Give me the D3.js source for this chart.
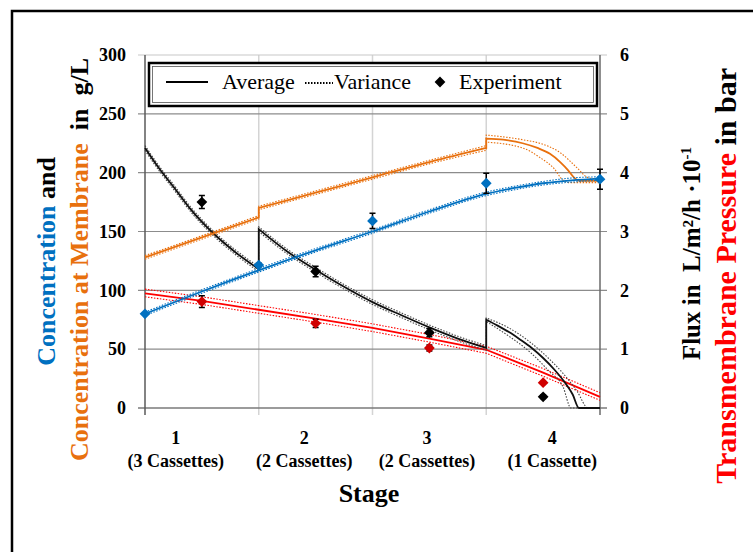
<!DOCTYPE html>
<html>
<head>
<meta charset="utf-8">
<script src="https://cdn.jsdelivr.net/npm/d3@7/dist/d3.min.js"></script>
<style>
  body { margin: 0; background: #fff; }
  text { font-family: "Liberation Serif", "DejaVu Serif", serif; }
</style>
</head>
<body>
<div id="chart"></div>
<script>
// ---- data (stage, value) ----
const STAGES = [0, 1, 2, 3, 4];
const LEFT_TICKS = [0, 50, 100, 150, 200, 250, 300];
const RIGHT_TICKS = [0, 1, 2, 3, 4, 5, 6];
const STAGE_NUMS = ["1", "2", "3", "4"];
const STAGE_NAMES = ["(3 Cassettes)", "(2 Cassettes)", "(2 Cassettes)", "(1 Cassette)"];
const STAGE_LABEL_POS = [0.27, 1.40, 2.48, 3.58];

// concentration (g/L)
const concAvg = [[0,80],[0.5,99],[1,117],[1.5,134],[2,150],[2.5,167],[3,182],[3.25,187],[3.5,191],[3.75,193.5],[4,195]];
const concHi  = [[0,81.5],[0.5,100.5],[1,118.5],[1.5,135.5],[2,151.5],[2.5,168.5],[3,183.5],[3.25,188.5],[3.5,192.5],[3.75,195.5],[4,196.5]];
const concLo  = [[0,78.5],[0.5,97.5],[1,115.5],[1.5,132.5],[2,148.5],[2.5,165.5],[3,180.5],[3.25,185.5],[3.5,189.5],[3.75,192],[4,193.5]];

// concentration at membrane (g/L)
const memAvg = [[0,128],[0.5,145],[1,162],[1,170],[1.5,183],[2,196],[2.5,209],[3,221],[3,229],[3.15,228],[3.32,225],[3.45,221],[3.56,216],[3.65,209],[3.72,202],[3.77,196],[3.82,193],[4,193]];
const memHi  = [[0,129.5],[0.5,146.5],[1,163.5],[1,171.5],[1.5,184.5],[2,197.5],[2.5,210.5],[3,223],[3,232],[3.32,228],[3.47,225],[3.65,217],[3.8,204],[3.89,196],[3.95,195],[4,195]];
const memLo  = [[0,126.5],[0.5,143.5],[1,160.5],[1,168.5],[1.5,181.5],[2,194.5],[2.5,207.5],[3,219],[3,226],[3.32,221],[3.47,213],[3.6,203],[3.67,194],[3.73,191.5],[4,191.5]];

// flux (L/m2/h * 10^-1)
const fluxAvg = [[0,4.42],[0.125,4.07],[0.25,3.76],[0.4,3.38],[0.6,2.97],[0.8,2.64],[1,2.36],[1,3.04],[1.25,2.66],[1.5,2.35],[1.75,2.06],[2,1.80],[2.25,1.58],[2.5,1.37],[2.75,1.18],[3,1.02],[3,1.50],[3.1,1.40],[3.2,1.29],[3.3,1.16],[3.4,1.02],[3.5,0.85],[3.6,0.65],[3.7,0.41],[3.76,0.23],[3.815,0],[4,0]];
const fluxHi  = [[0,4.46],[0.125,4.11],[0.25,3.80],[0.4,3.42],[0.6,3.01],[0.8,2.68],[1,2.40],[1,3.08],[1.25,2.70],[1.5,2.39],[1.75,2.10],[2,1.84],[2.25,1.62],[2.5,1.41],[2.75,1.22],[3,1.06],[3,1.53],[3.2,1.36],[3.385,1.12],[3.55,0.84],[3.675,0.59],[3.8,0.28],[3.895,0],[4,0]];
const fluxLo  = [[0,4.38],[0.125,4.03],[0.25,3.72],[0.4,3.34],[0.6,2.93],[0.8,2.60],[1,2.32],[1,3.00],[1.25,2.62],[1.5,2.31],[1.75,2.02],[2,1.76],[2.25,1.54],[2.5,1.33],[2.75,1.14],[3,0.98],[3,1.47],[3.2,1.22],[3.385,0.95],[3.55,0.63],[3.675,0.36],[3.745,0],[4,0]];

// transmembrane pressure (bar)
const tmpAvg = [[0,1.95],[0.5,1.82],[1,1.67],[1.5,1.52],[2,1.36],[2.5,1.18],[3,0.99],[3.5,0.60],[4,0.19]];
const tmpHi  = [[0,2.02],[0.5,1.89],[1,1.74],[1.5,1.59],[2,1.43],[2.5,1.25],[3,1.05],[3.5,0.67],[4,0.26]];
const tmpLo  = [[0,1.89],[0.5,1.76],[1,1.61],[1.5,1.46],[2,1.30],[2.5,1.12],[3,0.93],[3.5,0.54],[4,0.13]];

// experiments
const concExpX = [0, 1, 2, 3, 4];
const concExp  = [80, 121.5, 159, 191, 194.5];
const concErr  = [0, 1.5, 6.5, 8.5, 8.5];
const fluxExpX = [0.5, 1.5, 2.5, 3.5];
const fluxExp  = [3.50, 2.32, 1.28, 0.19];
const fluxErr  = [0.11, 0.09, 0.07, 0.03];
const tmpExp   = [1.81, 1.44, 1.02, 0.43];
const tmpErr   = [0.10, 0.07, 0.05, 0];

// ---- layout ----
const WIDTH = 753, HEIGHT = 552;
const PLOT = {left: 145, right: 600, top: 55, bottom: 408};
const BLUE = "#0070c0", ORANGE = "#e8700e", RED = "#ff0000", DARKRED = "#d00000";

const X = d3.scaleLinear().domain([0, 4]).range([PLOT.left, PLOT.right]);
const YL = d3.scaleLinear().domain([0, 300]).range([PLOT.bottom, PLOT.top]);
const YR = d3.scaleLinear().domain([0, 6]).range([PLOT.bottom, PLOT.top]);

const svg = d3.select("#chart").append("svg")
  .attr("width", WIDTH).attr("height", HEIGHT);

// outer frame (runs off the picture right and bottom)
svg.append("path")
  .attr("d", `M12,${HEIGHT} L12,11 L${WIDTH},11`)
  .attr("fill", "none").attr("stroke", "#000").attr("stroke-width", 2.5);

// gridlines
svg.append("g").selectAll("line").data(STAGES.slice(1, 4)).enter().append("line")
  .attr("x1", d => X(d)).attr("x2", d => X(d))
  .attr("y1", PLOT.top).attr("y2", PLOT.bottom + 7)
  .attr("stroke", "#d4d4d4").attr("stroke-width", 1.5);
svg.append("g").selectAll("line").data(LEFT_TICKS.slice(1)).enter().append("line")
  .attr("x1", PLOT.left - 7).attr("x2", PLOT.right + 7)
  .attr("y1", d => YL(d)).attr("y2", d => YL(d))
  .attr("stroke", d => d == 300 ? "#c8c8c8" : "#8c8c8c").attr("stroke-width", 1.2);

// axis lines
svg.append("line").attr("x1", PLOT.left - 7).attr("x2", PLOT.right + 7)
  .attr("y1", PLOT.bottom).attr("y2", PLOT.bottom)
  .attr("stroke", "#7a7a7a").attr("stroke-width", 1.5);
svg.append("line").attr("x1", PLOT.left).attr("x2", PLOT.left)
  .attr("y1", PLOT.top).attr("y2", PLOT.bottom + 7)
  .attr("stroke", "#5a5a5a").attr("stroke-width", 1.5);
svg.append("line").attr("x1", PLOT.right).attr("x2", PLOT.right)
  .attr("y1", PLOT.top).attr("y2", PLOT.bottom + 7)
  .attr("stroke", "#6a6a6a").attr("stroke-width", 1.5);

// tick labels
svg.append("g").selectAll("text").data(LEFT_TICKS).enter().append("text")
  .attr("x", 126).attr("y", d => YL(d)).attr("dy", "0.35em")
  .attr("text-anchor", "end").attr("font-size", 18).attr("font-weight", "bold")
  .text(d => d);
svg.append("g").selectAll("text").data(RIGHT_TICKS).enter().append("text")
  .attr("x", 620).attr("y", d => YR(d)).attr("dy", "0.35em")
  .attr("font-size", 18).attr("font-weight", "bold")
  .text(d => d);
const xl = svg.append("g").selectAll("text").data(STAGE_LABEL_POS).enter().append("text")
  .attr("text-anchor", "middle").attr("font-size", 18).attr("font-weight", "bold");
xl.append("tspan").attr("x", d => X(d)).attr("y", 444).text((d, i) => STAGE_NUMS[i]);
xl.append("tspan").attr("x", d => X(d)).attr("y", 467).text((d, i) => STAGE_NAMES[i]);
svg.append("text").attr("x", 369).attr("y", 502).attr("text-anchor", "middle")
  .attr("font-size", 26).attr("font-weight", "bold").text("Stage");

// axis titles
function vtitle(x, yEnd, size, parts) {
  const t = svg.append("text")
    .attr("transform", `translate(${x},${yEnd}) rotate(-90)`)
    .attr("text-anchor", "end").attr("font-size", size).attr("font-weight", "bold")
    .attr("xml:space", "preserve").style("white-space", "pre");
  parts.forEach(p => {
    const s = t.append("tspan").attr("fill", p[1]).text(p[0]);
    if (p[2]) s.attr("font-size", p[2]).attr("dy", p[3]);
  });
  return t;
}
vtitle(55, 157, 26, [["Concentration", BLUE], [" and", "#000"]]);
vtitle(88, 58, 26, [["Concentration at Membrane", ORANGE], ["  in  g/L", "#000"]]);
vtitle(700, 147, 25, [["Flux in  L/m²/h ·10", "#000"], ["-1", "#000", 15, -9]]);
vtitle(736, 68, 30, [["Transmembrane Pressure", RED], [" in bar", "#000"]]);

// curves: split where x repeats (jumps), smooth each piece, join with straight lines
function curvePath(data, yScale, smooth) {
  const gen = d3.line().x(d => X(d[0])).y(d => yScale(d[1]))
    .curve(smooth ? d3.curveMonotoneX : d3.curveLinear);
  const segs = [[data[0]]];
  for (let i = 1; i < data.length; i++) {
    if (data[i][0] == data[i - 1][0]) segs.push([data[i]]);
    else segs[segs.length - 1].push(data[i]);
  }
  return segs.map((s, i) => {
    const d = gen(s);
    return i == 0 ? d : "L" + d.slice(1);
  }).join("");
}
function drawSeries(avg, hi, lo, yScale, color, smooth, dotColor) {
  [hi, lo].forEach(v => {
    svg.append("path").attr("d", curvePath(v, yScale, smooth))
      .attr("fill", "none").attr("stroke", dotColor || color)
      .attr("stroke-width", 1.1).attr("stroke-dasharray", "1.5,1.5");
  });
  svg.append("path").attr("d", curvePath(avg, yScale, smooth))
    .attr("fill", "none").attr("stroke", color).attr("stroke-width", 1.8);
}
drawSeries(tmpAvg, tmpHi, tmpLo, YR, RED, false);
drawSeries(fluxAvg, fluxHi, fluxLo, YR, "#111", true, "#444");
drawSeries(memAvg, memHi, memLo, YL, ORANGE, true);
drawSeries(concAvg, concHi, concLo, YL, BLUE, true);

// experiment points with error bars
const diamond = d3.symbol(d3.symbolSquare, 58);
function drawPoints(xs, ys, errs, yScale, color) {
  const g = svg.append("g");
  xs.forEach((x, i) => {
    if (errs[i] > 0) {
      const y0 = yScale(ys[i] - errs[i]), y1 = yScale(ys[i] + errs[i]);
      g.append("path")
        .attr("d", `M${X(x)},${y0}L${X(x)},${y1}M${X(x) - 3},${y0}L${X(x) + 3},${y0}M${X(x) - 3},${y1}L${X(x) + 3},${y1}`)
        .attr("stroke", "#000").attr("stroke-width", 1.5).attr("fill", "none");
    }
    g.append("path").attr("d", diamond)
      .attr("transform", `translate(${X(x)},${yScale(ys[i])}) rotate(45)`)
      .attr("fill", color);
  });
}
drawPoints(fluxExpX, tmpExp, tmpErr, YR, DARKRED);
drawPoints(fluxExpX, fluxExp, fluxErr, YR, "#000");
drawPoints(concExpX, concExp, concErr, YL, BLUE);

// legend
const LEG = svg.append("g");
LEG.append("rect").attr("x", 149).attr("y", 63).attr("width", 448).attr("height", 43)
  .attr("fill", "#fff").attr("stroke", "#000").attr("stroke-width", 2.5);
LEG.append("rect").attr("x", 152.5).attr("y", 66.5).attr("width", 441).attr("height", 36)
  .attr("fill", "none").attr("stroke", "#555").attr("stroke-width", 0.8);
LEG.append("line").attr("x1", 166).attr("x2", 208).attr("y1", 82).attr("y2", 82)
  .attr("stroke", "#000").attr("stroke-width", 1.8);
LEG.append("text").attr("x", 222).attr("y", 89).attr("font-size", 22).text("Average");
LEG.append("line").attr("x1", 305).attr("x2", 333).attr("y1", 83).attr("y2", 83)
  .attr("stroke", "#000").attr("stroke-width", 1.8).attr("stroke-dasharray", "1.5,1.5");
LEG.append("text").attr("x", 334).attr("y", 89).attr("font-size", 22).text("Variance");
LEG.append("path").attr("d", diamond).attr("transform", "translate(440,82) rotate(45)").attr("fill", "#000");
LEG.append("text").attr("x", 459).attr("y", 89).attr("font-size", 22).text("Experiment");
</script>
</body>
</html>
